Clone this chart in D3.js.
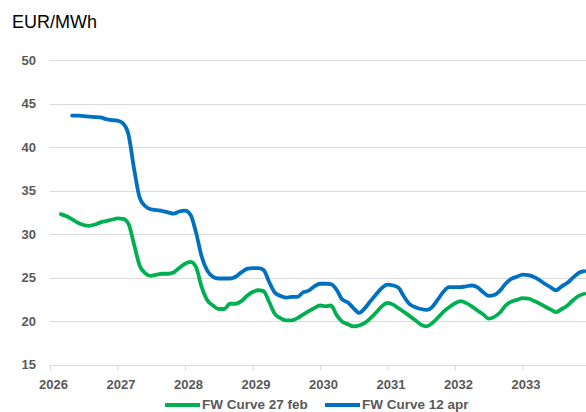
<!DOCTYPE html>
<html>
<head>
<meta charset="utf-8">
<script src="https://cdn.jsdelivr.net/npm/d3@7"></script>
<style>
  html, body { margin: 0; padding: 0; background: #fff; }
  svg { display: block; }
</style>
</head>
<body>
<div id="chart"></div>
<script>
// ---- Data (monthly forward prices, EUR/MWh) ----
const seriesNames = ["FW Curve 27 feb", "FW Curve 12 apr"];
const yTicks = [15, 20, 25, 30, 35, 40, 45, 50];
const yearTicks = [2026, 2027, 2028, 2029, 2030, 2031, 2032, 2033];

// first month index (0 = Jan 2026)
const febStart = 2;   // Mar 2026
const aprStart = 4;   // May 2026

const febValues = [
  32.3, 32.05, 31.7, 31.3, 31.05, 30.95, 31.1, 31.35, 31.5, 31.65,
  31.8, 31.75, 31.2, 28.8, 26.4, 25.5, 25.2, 25.35, 25.45, 25.45,
  25.6, 26.1, 26.6, 26.8, 26.2, 23.9, 22.4, 21.8, 21.4, 21.4,
  22.0, 22.0, 22.3, 22.9, 23.35, 23.55, 23.45, 22.2, 20.85, 20.35,
  20.1, 20.1, 20.35, 20.75, 21.15, 21.5, 21.8, 21.7, 21.8, 20.7,
  19.95, 19.65, 19.4, 19.5, 19.8, 20.35, 21.0, 21.7, 22.1, 21.9,
  21.5, 21.05, 20.6, 20.1, 19.6, 19.4, 19.8, 20.4, 21.1, 21.6,
  22.05, 22.3, 22.1, 21.7, 21.25, 20.8, 20.3, 20.5, 21.0, 21.8,
  22.25, 22.45, 22.65, 22.6, 22.35, 22.05, 21.7, 21.35, 21.05, 21.4,
  21.8, 22.4, 22.9, 23.15
];

const aprValues = [
  43.6, 43.6, 43.55, 43.5, 43.45, 43.4, 43.2, 43.1, 43.05, 42.7,
  41.5, 37.5, 34.2, 33.2, 32.85, 32.75, 32.65, 32.5, 32.35, 32.6,
  32.7, 32.2, 30.2, 27.4, 25.8, 25.1, 24.9, 24.9, 24.9, 25.1,
  25.6, 26.0, 26.1, 26.1, 25.9, 24.5, 23.3, 22.9, 22.7, 22.8,
  22.8, 23.3, 23.5, 24.0, 24.3, 24.3, 24.25, 23.6, 22.5, 22.15,
  21.5, 20.95, 21.5, 22.3, 23.1, 23.8, 24.2, 24.1, 23.85, 22.8,
  21.95, 21.6, 21.4, 21.3, 21.65, 22.5, 23.4, 23.9, 23.9, 23.9,
  24.0, 24.1, 23.9, 23.35, 22.9, 23.0, 23.5, 24.3, 24.85, 25.1,
  25.35, 25.3, 25.1, 24.75, 24.3, 23.9, 23.55, 24.0, 24.4, 25.0,
  25.55, 25.75
];

const colors = ["#00B050", "#0070C0"];

// ---- Build ----
const W = 586, H = 412;
const toDate = (start) => (v, i) => ({ date: new Date(2026, start + i, 1), value: v });
const febData = febValues.map(toDate(febStart));
const aprData = aprValues.map(toDate(aprStart));

const svg = d3.select("#chart").append("svg")
  .attr("width", W).attr("height", H);

const x = d3.scaleTime()
  .domain([new Date(2026, 0, 1), new Date(2034, 0, 1)])
  .range([50, 590]);
const y = d3.scaleLinear().domain([15, 50]).range([364.7, 60]);

const font = "'Liberation Sans', Arial, sans-serif";

// Title / unit
svg.append("text")
  .attr("x", 12).attr("y", 28)
  .attr("font-family", font).attr("font-size", 18)
  .attr("fill", "#000")
  .text("EUR/MWh");

// Gridlines
svg.append("g")
  .selectAll("line")
  .data(yTicks.filter(d => d > 15))
  .join("line")
  .attr("x1", 50).attr("x2", W)
  .attr("y1", d => Math.round(y(d)) + 0.5).attr("y2", d => Math.round(y(d)) + 0.5)
  .attr("stroke", "#D9D9D9").attr("stroke-width", 1);

// Y axis labels
const yAxis = svg.append("g")
  .attr("transform", "translate(50,0)")
  .call(d3.axisLeft(y).tickValues(yTicks).tickSize(0).tickPadding(14));
yAxis.select(".domain").remove();
yAxis.selectAll("text")
  .attr("font-family", font).attr("font-size", 13).attr("font-weight", "bold")
  .attr("fill", "#595959");

// X axis
const xAxis = svg.append("g")
  .attr("transform", `translate(0,${Math.round(y(15)) + 0.5})`)
  .call(d3.axisBottom(x)
    .tickValues(yearTicks.map(yr => new Date(yr, 0, 1)))
    .tickFormat(d3.timeFormat("%Y"))
    .tickSize(5).tickPadding(9));
xAxis.select(".domain")
  .attr("d", `M50,0H${W}`)
  .attr("stroke", "#D9D9D9");
xAxis.selectAll(".tick line").attr("stroke", "#D9D9D9");
xAxis.selectAll("text")
  .attr("dx", 3)
  .attr("font-family", font).attr("font-size", 13).attr("font-weight", "bold")
  .attr("fill", "#595959");

// Lines
const line = d3.line()
  .x(d => x(d.date))
  .y(d => y(d.value))
  .curve(d3.curveMonotoneX);

[febData, aprData].forEach((data, i) => {
  svg.append("path")
    .datum(data)
    .attr("fill", "none")
    .attr("stroke", colors[i])
    .attr("stroke-width", 3.8)
    .attr("stroke-linejoin", "round")
    .attr("stroke-linecap", "round")
    .attr("d", line);
});

// Legend
const legendX = [165, 325];
const legend = svg.append("g");
seriesNames.forEach((name, i) => {
  legend.append("line")
    .attr("x1", legendX[i]).attr("x2", legendX[i] + 35)
    .attr("y1", 405).attr("y2", 405)
    .attr("stroke", colors[i]).attr("stroke-width", 4);
  legend.append("text")
    .attr("x", legendX[i] + 37).attr("y", 409)
    .attr("font-family", font).attr("font-size", 13.5).attr("font-weight", "bold")
    .attr("fill", "#595959")
    .text(name);
});
</script>
</body>
</html>
